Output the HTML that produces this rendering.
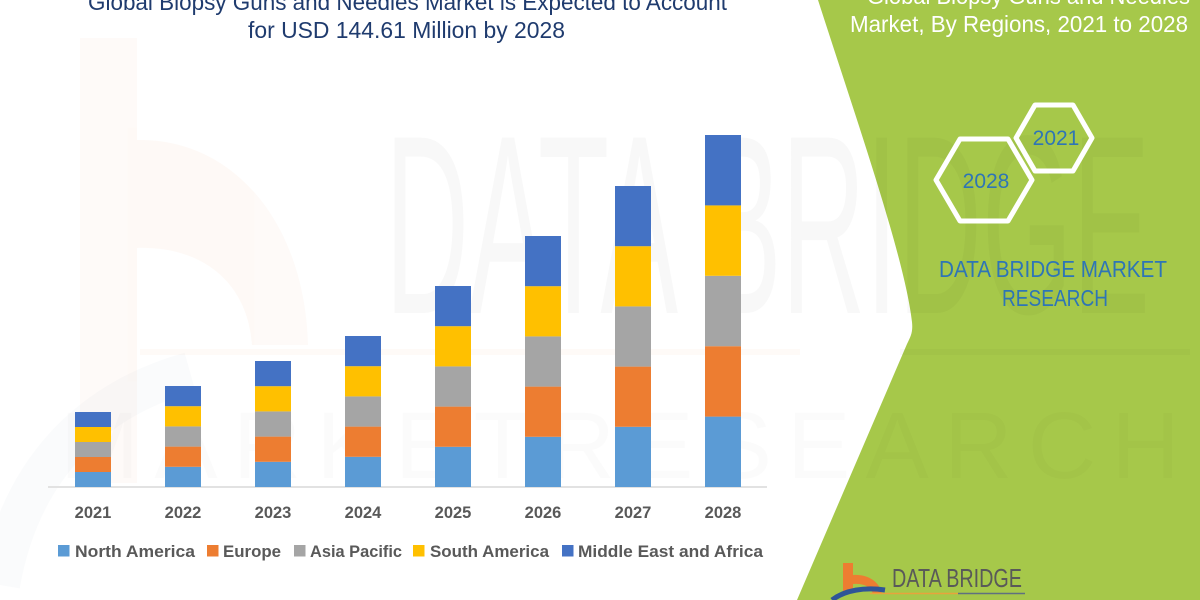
<!DOCTYPE html>
<html>
<head>
<meta charset="utf-8">
<style>
  html,body{margin:0;padding:0;background:#fff;}
  svg{display:block;}
  text{font-family:"Liberation Sans",Arial,sans-serif;}
</style>
</head>
<body>
<svg width="1200" height="600" viewBox="0 0 1200 600" xmlns="http://www.w3.org/2000/svg">
  <rect x="0" y="0" width="1200" height="600" fill="#ffffff"/>

  <!-- faint watermark logo "b" on left -->
  <g fill="#ed7d31" opacity="0.035">
    <rect x="80" y="38" width="57" height="445"/>
    <path d="M137,140 C235,138 305,225 308,345 L252,345 C248,285 205,246 137,248 Z"/>
  </g>
  <path d="M0,585 C20,470 90,400 190,372" fill="none" stroke="#8fa3c0" stroke-width="40" opacity="0.045"/>
  <line x1="140" y1="352" x2="800" y2="352" stroke="#ed7d31" stroke-width="6" opacity="0.03"/>

  <!-- green panel -->
  <path d="M818,0 C860,130 905,260 912,322 C913,332 911,336 907,344 L797,600 L1200,600 L1200,0 Z" fill="#a6c84a"/>
  <line x1="900" y1="352" x2="1190" y2="352" stroke="#000" stroke-width="6" opacity="0.02"/>

  <!-- watermark text -->
  <text x="385" y="313" font-size="255" fill="#000" opacity="0.022" textLength="765" lengthAdjust="spacingAndGlyphs">DATA BRIDGE</text>
  <text x="60" y="478" font-size="95" fill="#000" opacity="0.012" textLength="1120" lengthAdjust="spacing">MARKETRESEARCH</text>

  <!-- left title -->
  <text x="88" y="10" font-size="23" fill="#1f3b6e" textLength="639" lengthAdjust="spacingAndGlyphs">Global Biopsy Guns and Needles Market is Expected to Account</text>
  <text x="248" y="38" font-size="23" fill="#1f3b6e" textLength="317" lengthAdjust="spacingAndGlyphs">for USD 144.61 Million by 2028</text>

  <!-- right title -->
  <text x="867" y="4" font-size="23" fill="#ffffff" textLength="323" lengthAdjust="spacingAndGlyphs">Global Biopsy Guns and Needles</text>
  <text x="850" y="32" font-size="23" fill="#ffffff" textLength="338" lengthAdjust="spacingAndGlyphs">Market, By Regions, 2021 to 2028</text>

  <!-- hexagons -->
  <g fill="none" stroke="#ffffff" stroke-width="5" stroke-linejoin="round">
    <polygon points="936,180 960,139 1008,139 1032,180 1008,221 960,221"/>
    <polygon points="1016,138 1035,105 1073,105 1092,138 1073,171 1035,171"/>
  </g>
  <text x="986" y="188" font-size="21" fill="#2e75b6" text-anchor="middle">2028</text>
  <text x="1056" y="145" font-size="21" fill="#2e75b6" text-anchor="middle">2021</text>

  <text x="939" y="277" font-size="23" fill="#2e75b6" textLength="228" lengthAdjust="spacingAndGlyphs">DATA BRIDGE MARKET</text>
  <text x="1002" y="306" font-size="23" fill="#2e75b6" textLength="106" lengthAdjust="spacingAndGlyphs">RESEARCH</text>

  <!-- axis -->
  <line x1="48" y1="487" x2="767" y2="487" stroke="#d9d9d9" stroke-width="1.5"/>

  <!-- bars -->
  <g id="bars">
    <rect x="75" y="472" width="36" height="15" fill="#5b9bd5"/>
    <rect x="75" y="457" width="36" height="15" fill="#ed7d31"/>
    <rect x="75" y="442" width="36" height="15" fill="#a5a5a5"/>
    <rect x="75" y="427" width="36" height="15" fill="#ffc000"/>
    <rect x="75" y="412" width="36" height="15" fill="#4472c4"/>

    <rect x="165" y="466.8" width="36" height="20.2" fill="#5b9bd5"/>
    <rect x="165" y="446.6" width="36" height="20.2" fill="#ed7d31"/>
    <rect x="165" y="426.4" width="36" height="20.2" fill="#a5a5a5"/>
    <rect x="165" y="406.2" width="36" height="20.2" fill="#ffc000"/>
    <rect x="165" y="386" width="36" height="20.2" fill="#4472c4"/>

    <rect x="255" y="461.8" width="36" height="25.2" fill="#5b9bd5"/>
    <rect x="255" y="436.6" width="36" height="25.2" fill="#ed7d31"/>
    <rect x="255" y="411.4" width="36" height="25.2" fill="#a5a5a5"/>
    <rect x="255" y="386.2" width="36" height="25.2" fill="#ffc000"/>
    <rect x="255" y="361" width="36" height="25.2" fill="#4472c4"/>

    <rect x="345" y="456.8" width="36" height="30.2" fill="#5b9bd5"/>
    <rect x="345" y="426.6" width="36" height="30.2" fill="#ed7d31"/>
    <rect x="345" y="396.4" width="36" height="30.2" fill="#a5a5a5"/>
    <rect x="345" y="366.2" width="36" height="30.2" fill="#ffc000"/>
    <rect x="345" y="336" width="36" height="30.2" fill="#4472c4"/>

    <rect x="435" y="446.8" width="36" height="40.2" fill="#5b9bd5"/>
    <rect x="435" y="406.6" width="36" height="40.2" fill="#ed7d31"/>
    <rect x="435" y="366.4" width="36" height="40.2" fill="#a5a5a5"/>
    <rect x="435" y="326.2" width="36" height="40.2" fill="#ffc000"/>
    <rect x="435" y="286" width="36" height="40.2" fill="#4472c4"/>

    <rect x="525" y="436.8" width="36" height="50.2" fill="#5b9bd5"/>
    <rect x="525" y="386.6" width="36" height="50.2" fill="#ed7d31"/>
    <rect x="525" y="336.4" width="36" height="50.2" fill="#a5a5a5"/>
    <rect x="525" y="286.2" width="36" height="50.2" fill="#ffc000"/>
    <rect x="525" y="236" width="36" height="50.2" fill="#4472c4"/>

    <rect x="615" y="426.8" width="36" height="60.2" fill="#5b9bd5"/>
    <rect x="615" y="366.6" width="36" height="60.2" fill="#ed7d31"/>
    <rect x="615" y="306.4" width="36" height="60.2" fill="#a5a5a5"/>
    <rect x="615" y="246.2" width="36" height="60.2" fill="#ffc000"/>
    <rect x="615" y="186" width="36" height="60.2" fill="#4472c4"/>

    <rect x="705" y="416.6" width="36" height="70.4" fill="#5b9bd5"/>
    <rect x="705" y="346.2" width="36" height="70.4" fill="#ed7d31"/>
    <rect x="705" y="275.8" width="36" height="70.4" fill="#a5a5a5"/>
    <rect x="705" y="205.4" width="36" height="70.4" fill="#ffc000"/>
    <rect x="705" y="135" width="36" height="70.4" fill="#4472c4"/>
  </g>

  <!-- x labels -->
  <g font-size="16.5" font-weight="bold" fill="#595959" text-anchor="middle">
    <text x="93" y="518">2021</text>
    <text x="183" y="518">2022</text>
    <text x="273" y="518">2023</text>
    <text x="363" y="518">2024</text>
    <text x="453" y="518">2025</text>
    <text x="543" y="518">2026</text>
    <text x="633" y="518">2027</text>
    <text x="723" y="518">2028</text>
  </g>

  <!-- legend -->
  <g font-size="17" font-weight="bold" fill="#595959">
    <rect x="58" y="545" width="11.5" height="11.5" fill="#5b9bd5"/>
    <text x="75" y="557" textLength="120" lengthAdjust="spacingAndGlyphs">North America</text>
    <rect x="207" y="545" width="11.5" height="11.5" fill="#ed7d31"/>
    <text x="223" y="557" textLength="58" lengthAdjust="spacingAndGlyphs">Europe</text>
    <rect x="294" y="545" width="11.5" height="11.5" fill="#a5a5a5"/>
    <text x="310" y="557" textLength="92" lengthAdjust="spacingAndGlyphs">Asia Pacific</text>
    <rect x="413" y="545" width="11.5" height="11.5" fill="#ffc000"/>
    <text x="430" y="557" textLength="119" lengthAdjust="spacingAndGlyphs">South America</text>
    <rect x="562" y="545" width="11.5" height="11.5" fill="#4472c4"/>
    <text x="578" y="557" textLength="185" lengthAdjust="spacingAndGlyphs">Middle East and Africa</text>
  </g>

  <!-- bottom logo -->
  <g>
    <rect x="843" y="563" width="10" height="30" fill="#ed7d31"/>
    <path d="M853,575 C868,574 880,582 882,594 L873,594 C871,587 864,583 853,584 Z" fill="#ed7d31"/>
    <path d="M832,600 C845,590 865,587 885,590" fill="none" stroke="#2f5597" stroke-width="5"/>
    <text x="892" y="587" font-size="26" fill="#595959" textLength="130" lengthAdjust="spacingAndGlyphs">DATA BRIDGE</text>
    <line x1="870" y1="593.5" x2="958" y2="593.5" stroke="#e8a33c" stroke-width="1.5"/>
    <line x1="958" y1="593.5" x2="1025" y2="593.5" stroke="#5f7080" stroke-width="1.5"/>
  </g>
</svg>
</body>
</html>
